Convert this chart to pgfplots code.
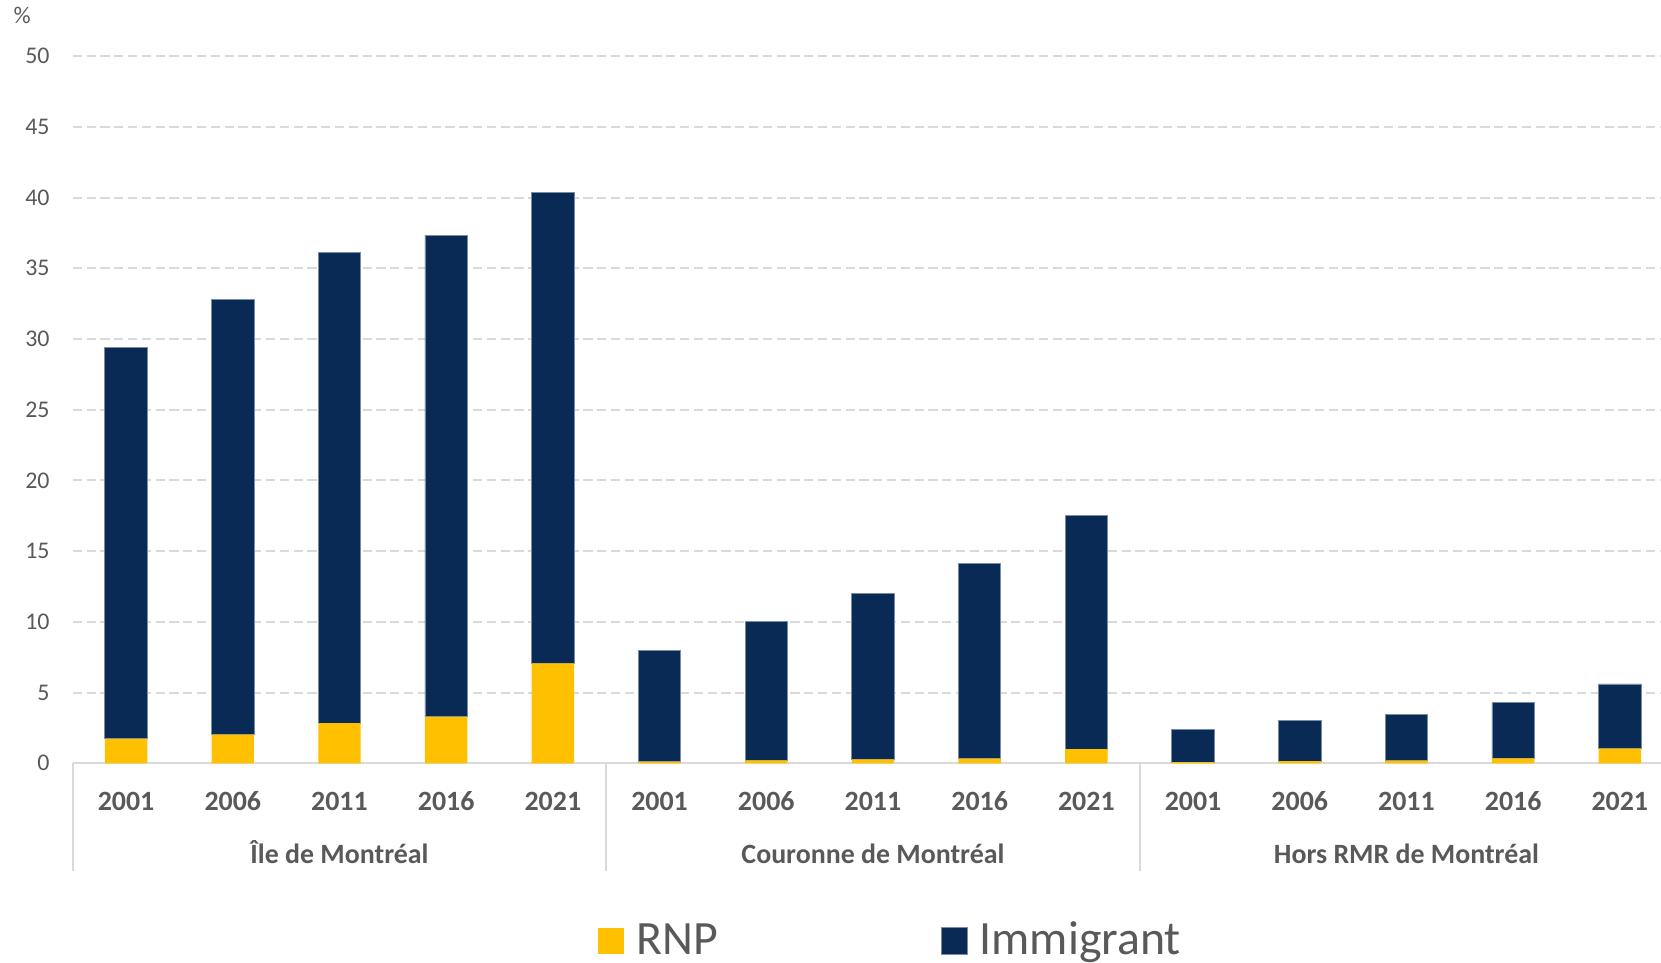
\documentclass[border=0pt]{standalone}
\usepackage{pgfplots}
\pgfplotsset{compat=1.18}
\usepackage{fontspec}
\setmainfont{Carlito}
\definecolor{navy}{RGB}{8,42,84}
\definecolor{gold}{RGB}{255,192,0}
\definecolor{txt}{RGB}{89,89,89}
\definecolor{grd}{RGB}{217,217,217}
\definecolor{edge}{RGB}{120,140,165}
\begin{document}
\begin{tikzpicture}
\useasboundingbox (0,0) rectangle (830.5bp,481.5bp);
\begin{axis}[
  at={(36.375bp,99.85bp)}, anchor=south west,
  scale only axis, width=794.125bp, height=353.6bp,
  xmin=-0.5, xmax=14.386, ymin=0, ymax=50,
  ybar stacked, bar width=21.2bp,
  axis x line*=bottom, axis y line*=left,
  x axis line style={grd, line width=1.2bp, -},
  y axis line style={draw=none},
  ytick={0,5,...,50}, ymajorgrids,
  grid style={grd, line width=1bp, dash pattern=on 4.6bp off 2.3bp},
  major tick length=0pt,
  xtick={0,...,14},
  xticklabels={2001,2006,2011,2016,2021,2001,2006,2011,2016,2021,2001,2006,2011,2016,2021},
  x tick label style={font=\fontsize{14}{16}\selectfont\bfseries, text=txt, anchor=center, inner sep=0pt, yshift=-18.9bp},
  y tick label style={font=\fontsize{12}{14}\selectfont, text=txt, anchor=east, inner sep=0pt, xshift=-11.4bp},
  /pgf/number format/assume math mode=true,
  clip=false,
  legend columns=2,
  legend style={at={(0.3307,-0.249)}, anchor=west, draw=none, fill=none, inner sep=0pt,
    font=\fontsize{24}{28}\selectfont, text=txt,
    nodes={inner sep=0pt}, cells={anchor=base west},
    /tikz/every odd column/.append style={column sep=6bp},
    /tikz/every even column/.append style={column sep=111.5bp}},
  legend image code/.code={\fill[#1] (0bp,0.1bp) rectangle (13bp,13.35bp);},
]
\addplot[fill=gold, draw=none] coordinates {
 (0,1.73) (1,2.03) (2,2.84) (3,3.29) (4,7.06)
 (5,0.11) (6,0.21) (7,0.28) (8,0.33) (9,1.01)
 (10,0.09) (11,0.16) (12,0.19) (13,0.35) (14,1.04)};
\addlegendentry{RNP}
\addplot[fill=navy, draw=edge, line width=0.4bp] coordinates {
 (0,27.66) (1,30.75) (2,33.25) (3,34.05) (4,33.31)
 (5,7.90) (6,9.79) (7,11.72) (8,13.78) (9,16.53)
 (10,2.30) (11,2.89) (12,3.24) (13,3.93) (14,4.57)};
\addlegendentry{Immigrant}
\draw[grd, line width=1.2bp] (axis cs:-0.5,0) -- ([yshift=-54bp]axis cs:-0.5,0);
\draw[grd, line width=1.2bp] (axis cs:4.5,0) -- ([yshift=-54bp]axis cs:4.5,0);
\draw[grd, line width=1.2bp] (axis cs:9.5,0) -- ([yshift=-54bp]axis cs:9.5,0);
\node[font=\fontsize{14}{16}\selectfont\bfseries, text=txt, anchor=base, yshift=-49.9bp] at (axis cs:2,0) {Île de Montréal};
\node[font=\fontsize{14}{16}\selectfont\bfseries, text=txt, anchor=base, yshift=-49.9bp] at (axis cs:7,0) {Couronne de Montréal};
\node[font=\fontsize{14}{16}\selectfont\bfseries, text=txt, anchor=base, yshift=-49.9bp] at (axis cs:12,0) {Hors RMR de Montréal};
\end{axis}
\node[font=\fontsize{12}{14}\selectfont, text=txt] at (11.1bp,474bp) {\%};
\end{tikzpicture}
\end{document}
